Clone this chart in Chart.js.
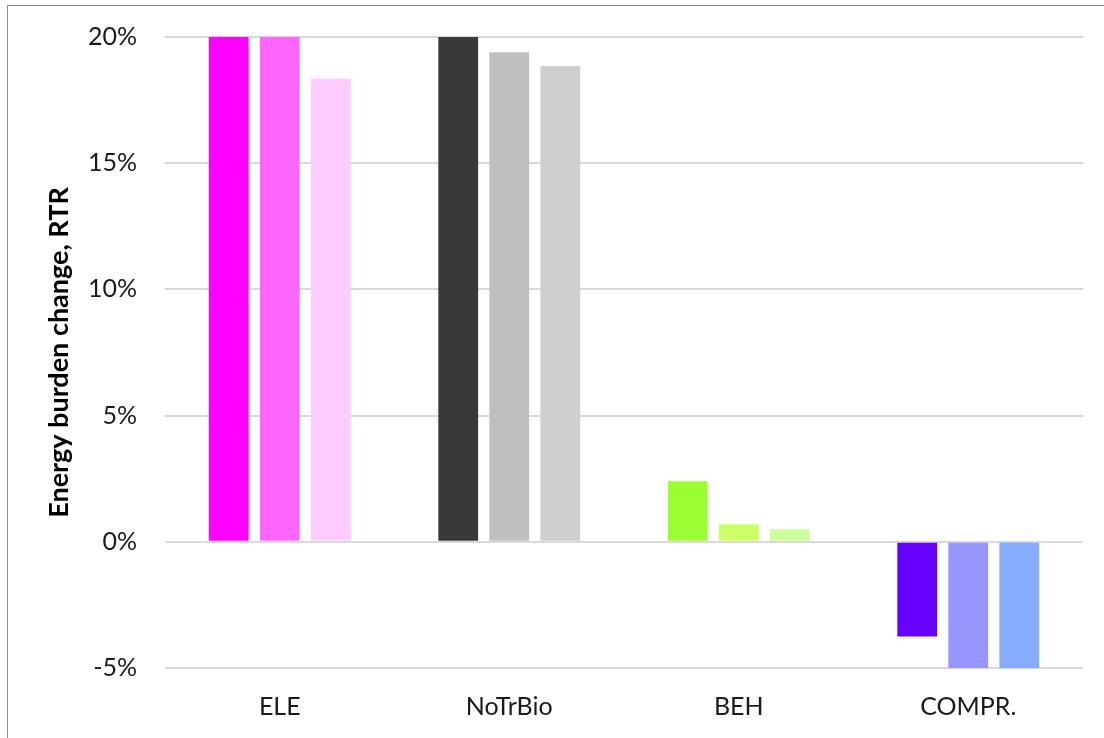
<!DOCTYPE html>
<html>
<head>
<meta charset="utf-8">
<script src="https://cdn.jsdelivr.net/npm/chart.js@4"></script>
<style>
  body { margin: 0; background: #fff; }
  #wrap { position: relative; width: 1104px; height: 738px; overflow: hidden; }
  #frame { position: absolute; left: 7px; top: 5px; right: -10px; bottom: -10px;
           border-top: 1px solid #8f8f8f; border-left: 1px solid #8f8f8f; }
  canvas { position: absolute; left: 0; top: 0; }
</style>
</head>
<body>
<div id="wrap">
  <div id="frame"></div>
  <canvas id="barChart" width="1104" height="738"></canvas>
</div>
<script>
// カテゴリと値 (%)
const categories = ['ELE', 'NoTrBio', 'BEH', 'COMPR.'];
const series1 = [20, 20, 2.4, -3.75];
const series2 = [20, 19.4, 0.7, -5];
const series3 = [18.35, 18.85, 0.5, -5];

// カテゴリごとの色
const colors1 = ['#ff00ff', '#3a3938', '#99ff33', '#6600ff'];
const colors2 = ['#ff66ff', '#bfbfbf', '#ccff66', '#9696fc'];
const colors3 = ['#ffccff', '#d0cece', '#ccff99', '#85acff'];

const fam = 'Lato, "Open Sans", sans-serif';

let ctx = document.getElementById('barChart');
let config = {
  type: 'bar',
  data: {
    labels: categories,
    datasets: [
      { data: series1, backgroundColor: colors1 },
      { data: series2, backgroundColor: colors2 },
      { data: series3, backgroundColor: colors3 },
    ],
  },
  options: {
    responsive: false,
    animation: false,
    layout: { padding: { left: 0, right: 21, top: 37, bottom: 0 } },
    datasets: { bar: { categoryPercentage: 0.667, barPercentage: 0.78 } },
    plugins: { legend: { display: false }, tooltip: { enabled: false } },
    scales: {
      x: {
        grid: { display: false, drawTicks: false },
        border: { display: false },
        ticks: { color: '#1a1a1a', font: { family: fam, size: 25 }, padding: 24 },
        afterFit: s => { s.height = 70; },
      },
      y: {
        min: -5,
        max: 20,
        grid: { color: '#d9d9d9', lineWidth: 2, drawTicks: false },
        border: { display: false },
        ticks: {
          stepSize: 5,
          color: '#1a1a1a',
          font: { family: fam, size: 25 },
          padding: 28,
          callback: v => v + '%',
        },
        title: {
          display: true,
          text: 'Energy burden change, RTR',
          color: '#000',
          font: { family: fam, size: 27, weight: 'bold' },
          padding: { top: 43, bottom: 0 },
        },
        afterFit: s => { s.width = 165; s.paddingTop = 0; s.paddingBottom = 0; },
      },
    },
  },
};
let barChart = new Chart(ctx, config);
</script>
</body>
</html>
